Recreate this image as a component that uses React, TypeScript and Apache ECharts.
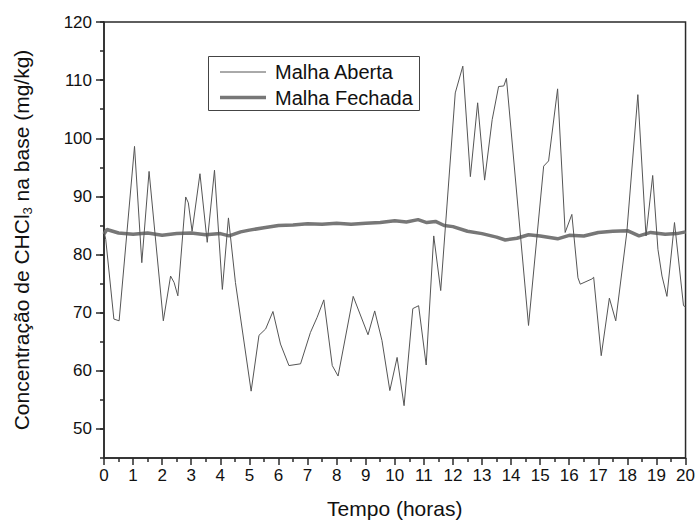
import React, { useEffect, useRef } from "react";
import * as echarts from "echarts";

const seriesNames = ["Malha Aberta", "Malha Fechada"];

const tAberta = [0, 0.06, 0.34, 0.52, 1.05, 1.3, 1.55, 2.04, 2.29, 2.41, 2.54, 2.81, 2.9, 3.03, 3.3, 3.55, 3.8, 4.07, 4.28, 4.52, 5.06, 5.33, 5.56, 5.81, 6.07, 6.36, 6.76, 7.1, 7.33, 7.56, 7.85, 8.05, 8.57, 9.08, 9.31, 9.56, 9.83, 10.08, 10.32, 10.62, 10.82, 11.08, 11.34, 11.58, 12.08, 12.34, 12.6, 12.85, 13.09, 13.35, 13.57, 13.75, 13.84, 14.6, 15.12, 15.29, 15.6, 15.86, 16.09, 16.3, 16.38, 16.78, 16.84, 17.1, 17.38, 17.6, 17.98, 18.36, 18.64, 18.87, 19.05, 19.19, 19.36, 19.62, 19.93, 20];
const vAberta = [84, 82.6, 68.9, 68.6, 98.6, 78.6, 94.3, 68.6, 76.3, 75.2, 72.9, 89.9, 88.9, 84.0, 93.9, 82.1, 94.5, 74.0, 86.3, 75.2, 56.5, 66.1, 67.2, 70.2, 64.6, 60.9, 61.2, 66.6, 69.2, 72.2, 60.9, 59.1, 72.8, 66.2, 70.3, 65.2, 56.6, 62.3, 54.0, 70.7, 71.2, 61.0, 83.2, 73.8, 107.8, 112.4, 93.4, 106.1, 92.8, 103.2, 108.9, 109.0, 110.3, 67.8, 95.2, 96.1, 108.5, 83.8, 86.9, 76.0, 74.9, 75.8, 76.1, 62.6, 72.5, 68.6, 83.8, 107.5, 83.2, 93.6, 80.9, 76.3, 72.8, 85.5, 71.2, 71.0];

const tFechada = [0, 0.1, 0.5, 1, 1.5, 2, 2.5, 3, 3.5, 4, 4.3, 4.7, 5, 5.5, 6, 6.5, 7, 7.5, 8, 8.5, 9, 9.5, 10, 10.4, 10.8, 11.1, 11.4, 11.7, 12, 12.5, 13, 13.5, 13.8, 14.2, 14.6, 15, 15.6, 16, 16.5, 17, 17.5, 18, 18.4, 18.8, 19.3, 19.7, 20];
const vFechada = [83.5, 84.3, 83.7, 83.5, 83.7, 83.3, 83.6, 83.7, 83.4, 83.6, 83.2, 83.9, 84.2, 84.6, 85.0, 85.1, 85.3, 85.2, 85.4, 85.2, 85.4, 85.5, 85.8, 85.6, 86.0, 85.5, 85.7, 85.0, 84.8, 84.0, 83.6, 83.0, 82.5, 82.8, 83.4, 83.2, 82.7, 83.3, 83.2, 83.8, 84.0, 84.1, 83.2, 83.8, 83.5, 83.6, 83.9];

const yLabelValues = [50, 60, 70, 80, 90, 100, 110, 120];

const FONT = "'Liberation Sans', Arial, sans-serif";
const TXT = "#111111";
const AX = "#2a2a2a";
const C_ABERTA = "#555555";
const C_FECHADA = "#777777";

export default function App() {
  const ref = useRef<HTMLDivElement>(null);
  useEffect(() => {
    if (!ref.current) return;
    const chart = echarts.init(ref.current, null, { renderer: "svg" });
    const pairs = (t: number[], v: number[]) => t.map((x, i) => [x, v[i]]);
    chart.setOption({
      animation: false,
      backgroundColor: "#ffffff",
      textStyle: { fontFamily: FONT },
      grid: {
        left: 104,
        right: 11,
        top: 22,
        bottom: 65,
        show: true,
        borderColor: AX,
        borderWidth: 1.5,
        backgroundColor: "transparent",
      },
      graphic: [
        {
          type: "rect",
          shape: { x: 208.5, y: 56.5, width: 211, height: 54 },
          style: { fill: "#ffffff", stroke: "#444444", lineWidth: 1 },
          z: 10,
        },
        {
          type: "line",
          shape: { x1: 220, y1: 72, x2: 266, y2: 72 },
          style: { stroke: C_ABERTA, lineWidth: 1 },
          z: 11,
        },
        {
          type: "line",
          shape: { x1: 220, y1: 97.5, x2: 266, y2: 97.5 },
          style: { stroke: C_FECHADA, lineWidth: 3.5 },
          z: 11,
        },
        {
          type: "text",
          x: 275,
          y: 72,
          style: { text: seriesNames[0], font: `20px ${FONT}`, fill: TXT, textVerticalAlign: "middle", verticalAlign: "middle" },
          z: 11,
        },
        {
          type: "text",
          x: 275,
          y: 98,
          style: { text: seriesNames[1], font: `20px ${FONT}`, fill: TXT, textVerticalAlign: "middle", verticalAlign: "middle" },
          z: 11,
        },
      ],
      xAxis: {
        type: "value",
        min: 0,
        max: 20,
        interval: 1,
        name: "Tempo (horas)",
        nameLocation: "middle",
        nameGap: 40,
        nameTextStyle: { fontFamily: FONT, fontSize: 21, color: TXT },
        axisLine: { lineStyle: { color: AX, width: 1.5 } },
        axisTick: { length: 7, lineStyle: { color: AX, width: 1.5 } },
        minorTick: { show: true, splitNumber: 2, length: 4, lineStyle: { color: AX, width: 1.5 } },
        axisLabel: { fontFamily: FONT, fontSize: 17, color: TXT, margin: 9 },
        splitLine: { show: false },
      },
      yAxis: [
        {
          type: "value",
          min: 45,
          max: 120,
          interval: 5,
          name: "{a|Concentração de CHCl}{s|3}{a| na base (mg/kg)}",
          nameLocation: "middle",
          nameGap: 70,
          nameRotate: 90,
          nameTextStyle: {
            rich: {
              a: { fontFamily: FONT, fontSize: 21, color: TXT, lineHeight: 26 },
              s: { fontFamily: FONT, fontSize: 13, color: TXT, lineHeight: 26, verticalAlign: "bottom", padding: [9, 0, 0, 0] },
            },
          },
          axisLine: { lineStyle: { color: AX, width: 1.5 } },
          axisTick: { length: 8, customValues: yLabelValues, lineStyle: { color: AX, width: 1.5 } },
          axisLabel: {
            customValues: yLabelValues,
            fontFamily: FONT,
            fontSize: 17,
            color: TXT,
            margin: 12,
            formatter: (v: number) => (v % 10 === 0 ? String(v) : ""),
          },
          splitLine: { show: false },
        },
        {
          type: "value",
          min: 45,
          max: 120,
          interval: 5,
          position: "left",
          axisLine: { show: false },
          axisTick: { show: true, length: 4, lineStyle: { color: AX, width: 1.5 } },
          axisLabel: { show: false },
          splitLine: { show: false },
        },
      ],
      series: [
        {
          name: seriesNames[0],
          type: "line",
          data: pairs(tAberta, vAberta),
          symbol: "none",
          lineStyle: { color: C_ABERTA, width: 1 },
          itemStyle: { color: C_ABERTA },
          z: 3,
        },
        {
          name: seriesNames[1],
          type: "line",
          data: pairs(tFechada, vFechada),
          symbol: "none",
          lineStyle: { color: C_FECHADA, width: 3.5 },
          itemStyle: { color: C_FECHADA },
          z: 2,
        },
      ],
    });
    return () => chart.dispose();
  }, []);
  return (
    <div
      ref={ref}
      style={{ position: "fixed", left: 0, top: 0, width: 698, height: 524 }}
    />
  );
}
